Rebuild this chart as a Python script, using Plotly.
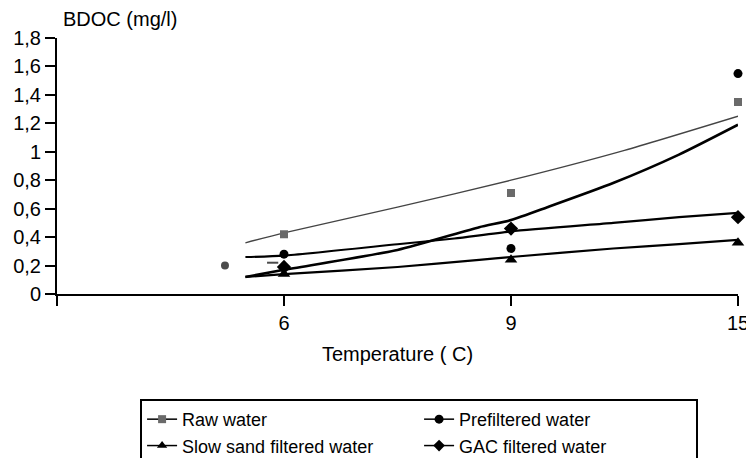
import plotly.graph_objects as go

# Category positions on the x axis (origin, 6, 9, 15 degrees C)
x_pos = [0, 1, 2, 3]
x_labels = ["", "6", "9", "15"]

# Measured points at 6, 9, 15 C
pt_x = [1, 2, 3]
raw = [0.42, 0.71, 1.35]
prefiltered = [0.28, 0.32, 1.55]
slow_sand = [0.14, 0.24, 0.36]
gac = [0.19, 0.46, 0.54]

# Trend lines
raw_tx = [0.83, 1.0, 1.5, 2.0, 2.5, 3.0]
raw_ty = [0.36, 0.43, 0.61, 0.80, 1.01, 1.25]
pre_tx = [0.83, 1.0, 1.5, 1.86, 2.0, 2.16, 2.45, 2.74, 3.0]
pre_ty = [0.12, 0.17, 0.31, 0.47, 0.52, 0.61, 0.78, 0.98, 1.19]
ssf_tx = [0.83, 1.0, 1.5, 1.86, 2.0, 2.45, 2.74, 3.0]
ssf_ty = [0.12, 0.14, 0.19, 0.24, 0.26, 0.32, 0.35, 0.38]
gac_tx = [0.83, 1.0, 1.5, 1.75, 2.0, 2.45, 2.74, 3.0]
gac_ty = [0.26, 0.27, 0.35, 0.39, 0.44, 0.50, 0.54, 0.57]

# Stray marks near 6 C
extra_x = [0.74, 0.95]
extra_y = [0.20, 0.22]
extra_sym = ["circle", "line-ew"]

y_ticks = [0, 0.2, 0.4, 0.6, 0.8, 1.0, 1.2, 1.4, 1.6, 1.8]
y_labels = ["0", "0,2", "0,4", "0,6", "0,8", "1", "1,2", "1,4", "1,6", "1,8"]

names = ["Raw water", "Prefiltered water", "Slow sand filtered water", "GAC filtered water"]

FONT = "Liberation Sans, Arial, sans-serif"

fig = go.Figure()

series = [
    (names[0], raw, raw_tx, raw_ty, "square", 8, "#6a6a6a", "#444444", 1.3),
    (names[1], prefiltered, pre_tx, pre_ty, "circle", 9, "black", "black", 2.6),
    (names[2], slow_sand, ssf_tx, ssf_ty, "triangle-up", 11, "black", "black", 2.2),
    (names[3], gac, gac_tx, gac_ty, "diamond", 11, "black", "black", 2.2),
]

for name, vals, tx, ty, sym, size, mcol, lcol, lw in series:
    fig.add_trace(go.Scatter(x=tx, y=ty, mode="lines", line=dict(color=lcol, width=lw, shape="spline", smoothing=0.6),
                             showlegend=False, legendgroup=name, hoverinfo="skip"))
    fig.add_trace(go.Scatter(x=pt_x, y=vals, mode="markers", name=name,
                             marker=dict(symbol=sym, size=size, color=mcol),
                             showlegend=False, legendgroup=name, cliponaxis=False))

for name, vals, tx, ty, sym, size, mcol, lcol, lw in series:
    fig.add_trace(go.Scatter(x=[None], y=[None], mode="lines+markers", name=name,
                             line=dict(color="black", width=1.5),
                             marker=dict(symbol=sym, size=min(size, 9), color=mcol),
                             legendgroup=name, showlegend=True))

fig.add_trace(go.Scatter(x=extra_x, y=extra_y, mode="markers", showlegend=False,
                         marker=dict(symbol=extra_sym, size=[6, 8], color="black",
                                     line=dict(color="black", width=2))))

# page body has an 8px default margin, so the figure is 746x450 placed at (8, 8)
fig.update_layout(
    width=746, height=450,
    margin=dict(l=49, r=16, t=30, b=164, autoexpand=False),
    paper_bgcolor="white", plot_bgcolor="white",
    font=dict(family=FONT, size=20, color="black"),
    xaxis=dict(range=[0, 3], tickvals=x_pos, ticktext=x_labels, showgrid=False, zeroline=False,
               showline=True, linecolor="black", linewidth=2, ticks="outside", ticklen=10,
               tickwidth=2, tickcolor="black", tickfont=dict(size=20), automargin=False,
               title=dict(text="Temperature ( C)", font=dict(size=20), standoff=14)),
    yaxis=dict(range=[0, 1.8], tickvals=y_ticks, ticktext=y_labels, showgrid=False, zeroline=False,
               showline=True, linecolor="black", linewidth=2, ticks="outside", ticklen=10,
               tickwidth=2, tickcolor="black", tickfont=dict(size=20), automargin=False),
    legend=dict(orientation="h", x=0.122, xanchor="left", y=-0.41, yanchor="top",
                entrywidth=232, entrywidthmode="pixels", itemwidth=30,
                bordercolor="black", borderwidth=2, font=dict(size=18), traceorder="normal"),
    annotations=[dict(text="BDOC (mg/l)", xref="paper", yref="paper", x=0, y=1, xanchor="left",
                      yanchor="bottom", xshift=4, yshift=6, showarrow=False, font=dict(size=20))],
)

fig.write_html("out.html")
